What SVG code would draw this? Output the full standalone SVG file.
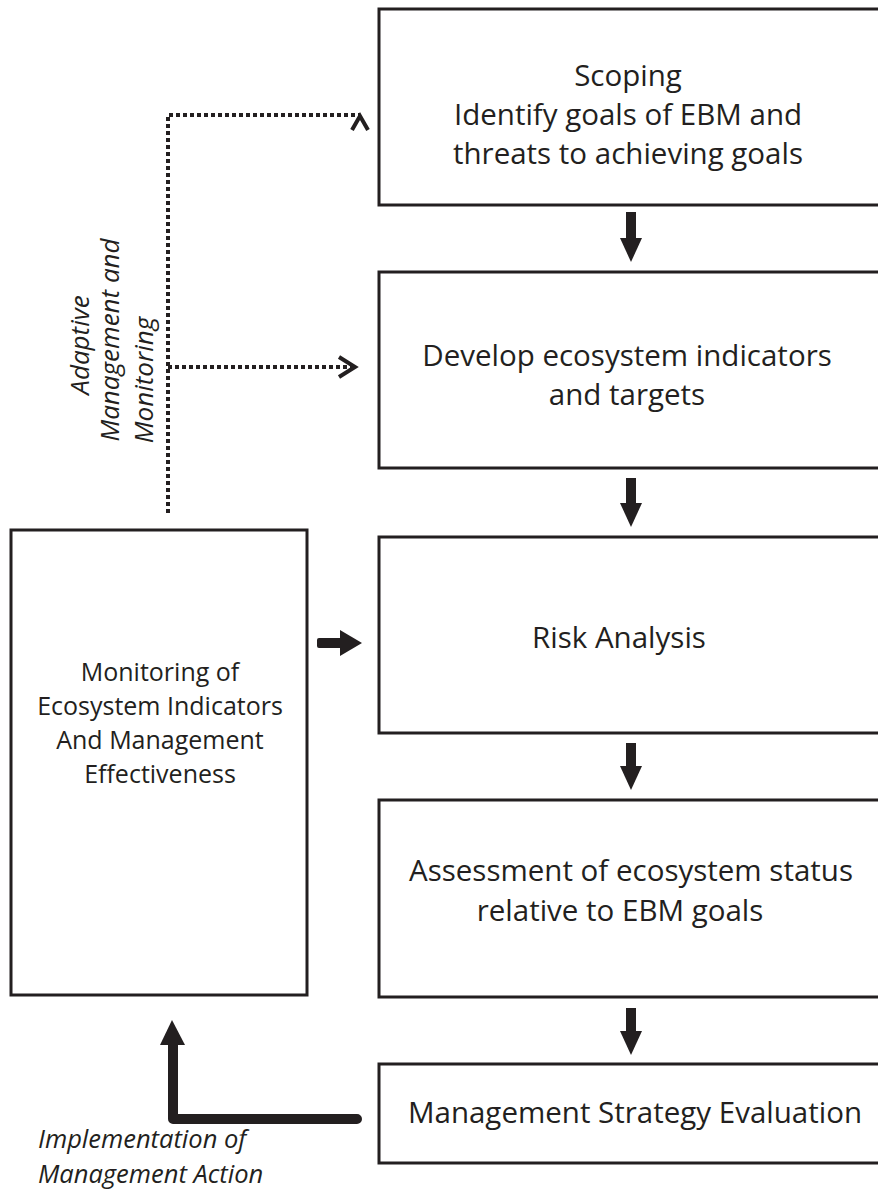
<svg xmlns="http://www.w3.org/2000/svg" width="878" height="1193" viewBox="0 0 878 1193">
<style>
.box{fill:#fff;stroke:#231f20;stroke-width:3}
.t{font-family:"Open Sans","Liberation Sans",sans-serif;font-size:29.5px;fill:#231f20;text-anchor:middle}
.ts{font-family:"Open Sans","Liberation Sans",sans-serif;font-size:25px;fill:#231f20;text-anchor:middle}
.ti{font-family:"Open Sans","Liberation Sans",sans-serif;font-size:26px;font-style:italic;fill:#231f20}
.dot{fill:none;stroke:#231f20;stroke-width:4;stroke-dasharray:4 3}
.chev{fill:none;stroke:#231f20;stroke-width:4}
.thick{fill:none;stroke:#231f20;stroke-width:10}
.head{fill:#231f20}
</style>
<g id="scoping">
<rect class="box" x="379" y="9" width="510" height="196"/>
<text class="t" x="628" y="86">Scoping</text>
<text class="t" x="628" y="125">Identify goals of EBM and</text>
<text class="t" x="628" y="164">threats to achieving goals</text>
</g>
<g id="indicators">
<rect class="box" x="379" y="272" width="510" height="196"/>
<text class="t" x="627" y="366">Develop ecosystem indicators</text>
<text class="t" x="627" y="405">and targets</text>
</g>
<g id="risk">
<rect class="box" x="379" y="537" width="510" height="196"/>
<text class="t" x="619" y="648">Risk Analysis</text>
</g>
<g id="assessment">
<rect class="box" x="379" y="800" width="510" height="197"/>
<text class="t" x="631" y="881">Assessment of ecosystem status</text>
<text class="t" x="620" y="921">relative to EBM goals</text>
</g>
<g id="mse">
<rect class="box" x="379" y="1064" width="510" height="99"/>
<text class="t" x="635" y="1123">Management Strategy Evaluation</text>
</g>
<g id="monitoring">
<rect class="box" x="11" y="530" width="296" height="465"/>
<text class="ts" x="160" y="681">Monitoring of</text>
<text class="ts" x="160" y="715">Ecosystem Indicators</text>
<text class="ts" x="160" y="749">And Management</text>
<text class="ts" x="160" y="783">Effectiveness</text>
</g>
<g id="labels">
<text class="ti" text-anchor="middle" transform="translate(89,345) rotate(-90)">Adaptive</text>
<text class="ti" text-anchor="middle" transform="translate(119,340) rotate(-90)">Management and</text>
<text class="ti" text-anchor="middle" transform="translate(153,380) rotate(-90)">Monitoring</text>
<text class="ti" x="38" y="1148" style="font-size:25.5px">Implementation of</text>
<text class="ti" x="38" y="1183" style="font-size:25.5px">Management Action</text>
</g>
<g id="connectors">
<path class="dot" d="M168,513 V115 H360"/>
<path class="dot" d="M168,367 H352"/>
<polyline class="chev" points="352,130 360,116 368,130"/>
<polyline class="chev" points="339,357 355,367 339,377"/>
<g>
<rect class="head" x="626" y="212" width="10" height="28"/>
<polygon class="head" points="620,238 642,238 631,262"/>
<rect class="head" x="626" y="478" width="10" height="27"/>
<polygon class="head" points="620,503 642,503 631,527"/>
<rect class="head" x="626" y="743" width="10" height="25"/>
<polygon class="head" points="620,766 642,766 631,790"/>
<rect class="head" x="626" y="1008" width="10" height="25"/>
<polygon class="head" points="620,1031 642,1031 631,1055"/>
</g>
<rect class="head" x="317" y="638" width="26" height="10" rx="2"/>
<polygon class="head" points="340,630 340,656 362,643"/>
<path class="thick" d="M173,1042 V1119 H357" stroke-linecap="round" stroke-linejoin="round"/>
<polygon class="head" points="160,1045 185,1045 172,1020"/>
</g>
</svg>
